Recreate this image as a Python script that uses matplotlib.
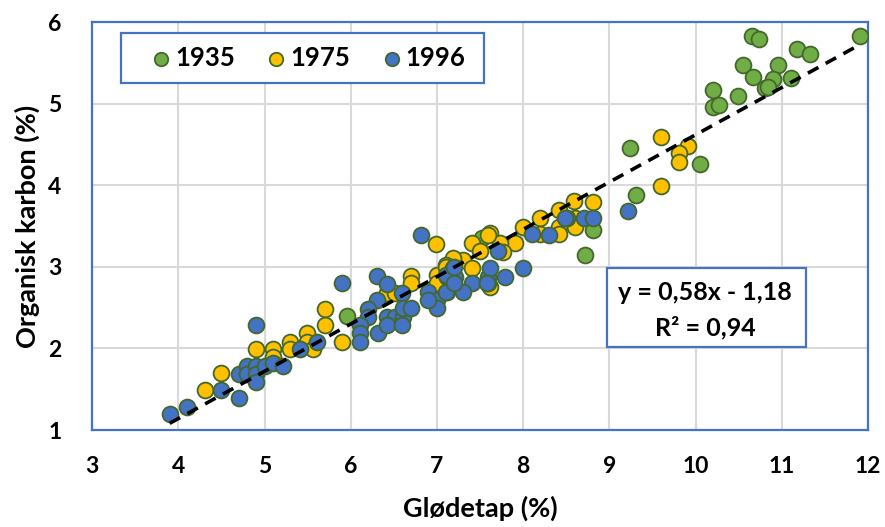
import numpy as np
import matplotlib.pyplot as plt
from matplotlib.patches import Rectangle

plt.rcParams['font.family'] = ['Lato', 'DejaVu Sans']
plt.rcParams['font.weight'] = 'bold'

# Glødetap (%) og organisk karbon (%) per år
x_1935 = [10.65, 10.73, 11.91, 11.17, 11.32, 10.55, 10.96, 10.67, 10.90, 11.10, 10.80, 10.84,
          10.20, 10.49, 10.20, 10.27, 9.24, 10.05, 9.31, 8.81, 8.72, 5.96, 7.52]
y_1935 = [5.83, 5.79, 5.83, 5.67, 5.61, 5.47, 5.47, 5.33, 5.30, 5.31, 5.19, 5.20,
          5.17, 5.09, 4.96, 4.98, 4.46, 4.26, 3.88, 3.45, 3.14, 2.40, 3.35]

x_1975 = [9.60, 9.91, 9.81, 9.81, 9.60, 8.59, 8.81, 8.60, 8.41, 8.20, 8.00, 8.41, 8.60, 8.20, 8.41,
          7.91, 7.61, 7.41, 7.73, 7.50, 7.77, 7.30, 7.19, 7.41, 7.10, 7.62, 7.59, 7.59, 6.99,
          5.70, 5.70, 5.90, 6.42, 6.51, 6.70, 6.70, 7.00, 7.00, 7.10,
          4.31, 4.50, 4.90, 5.10, 5.10, 5.30, 5.30, 5.49, 5.49, 5.56]
y_1975 = [4.59, 4.48, 4.39, 4.28, 3.99, 3.81, 3.79, 3.60, 3.70, 3.60, 3.49, 3.49, 3.49, 3.40, 3.40,
          3.29, 3.41, 3.29, 3.29, 3.19, 3.18, 3.08, 3.11, 2.99, 3.02, 2.75, 2.80, 3.39, 3.28,
          2.48, 2.29, 2.08, 2.68, 2.68, 2.89, 2.80, 2.90, 2.80, 3.00,
          1.49, 1.70, 1.99, 1.99, 1.89, 2.08, 1.99, 2.19, 2.08, 1.99]

x_1996 = [9.21, 8.51, 8.70, 8.81, 8.49, 8.10, 8.30, 7.71, 8.00, 7.79, 7.59, 7.41, 7.19, 7.61,
          7.12, 7.21, 7.58, 7.12, 7.30, 6.81, 5.90, 6.31, 6.42, 6.60, 6.31, 6.20, 6.20, 6.11,
          6.11, 6.11, 6.42, 6.51, 6.61, 6.61, 6.70, 6.32, 6.42, 6.60, 6.90, 7.00, 7.00, 7.10,
          7.10, 6.90, 7.20, 7.20, 3.90, 4.10, 4.50, 4.70, 4.70, 4.80, 4.80, 4.90, 4.90, 4.90,
          4.90, 5.01, 5.10, 5.22, 5.41, 5.61]
y_1996 = [3.68, 3.60, 3.60, 3.60, 3.60, 3.40, 3.39, 3.19, 2.99, 2.88, 2.88, 2.80, 2.99, 2.99,
          2.88, 2.88, 2.80, 2.69, 2.69, 3.39, 2.80, 2.89, 2.79, 2.68, 2.59, 2.48, 2.39, 2.29,
          2.19, 2.08, 2.39, 2.39, 2.39, 2.50, 2.50, 2.19, 2.29, 2.29, 2.69, 2.59, 2.50, 2.69,
          2.90, 2.59, 2.80, 3.00, 1.20, 1.28, 1.49, 1.39, 1.69, 1.78, 1.69, 1.78, 1.69, 1.59,
          2.29, 1.78, 1.82, 1.78, 1.99, 2.08]

# lineær trendlinje for alle år samlet
slope = 0.58
intercept = -1.18
r2 = 0.94

series = [
    ('1935', x_1935, y_1935, '#70AD47'),
    ('1975', x_1975, y_1975, '#FFC000'),
    ('1996', x_1996, y_1996, '#4472C4'),
]

blue = '#4472C4'
edge = '#43682B'

fig = plt.figure(figsize=(8.85, 5.27), dpi=100)
ax = fig.add_axes([0.104, 0.184, 0.877, 0.774])

for name, xs, ys, col in series:
    ax.scatter(xs, ys, s=130, color=col, edgecolors=edge, linewidths=1.3, label=name, zorder=3)

all_x = x_1935 + x_1975 + x_1996
tx = np.array([min(all_x), max(all_x)])
ax.plot(tx, slope * tx + intercept, color='black', linestyle=(0, (3.3, 2.3)), linewidth=2.6, zorder=4)

ax.set_xlim(3, 12)
ax.set_ylim(1, 6)
ax.set_xticks(range(3, 13))
ax.set_yticks(range(1, 7))
ax.grid(True, color='#D9D9D9', linewidth=1.5, zorder=0)
ax.set_axisbelow(True)
for sp in ax.spines.values():
    sp.set_color(blue)
    sp.set_linewidth(1.6)
ax.tick_params(axis='both', length=0, labelsize=16.5)
ax.tick_params(axis='x', pad=19)
ax.tick_params(axis='y', pad=22)

ax.set_xlabel('Glødetap (%)', fontsize=19.5, fontweight='bold', labelpad=13)
ax.set_ylabel('Organisk karbon (%)', fontsize=19.5, fontweight='bold', labelpad=6)

# tegnforklaring med egen ramme
ax.add_patch(Rectangle((0.0374, 0.8505), 0.468, 0.1225, transform=ax.transAxes,
                       facecolor='white', edgecolor=blue, linewidth=1.6, zorder=5))
leg = ax.legend(loc='center left', bbox_to_anchor=(0.076, 0.912), ncol=3, fontsize=18.5,
                frameon=False, borderpad=0, borderaxespad=0, handlelength=0.8,
                handletextpad=0.15, columnspacing=1.2, markerscale=0.85)
leg.set_zorder(6)

# boks med likning og R²
ax.add_patch(Rectangle((0.664, 0.203), 0.256, 0.194, transform=ax.transAxes,
                       facecolor='white', edgecolor=blue, linewidth=1.6, zorder=5))
ax.text(0.790, 0.338, f'y = {slope:.2f}x - {abs(intercept):.2f}'.replace('.', ','),
        transform=ax.transAxes, ha='center', va='center', fontsize=18, fontweight='bold', zorder=6)
ax.text(0.790, 0.252, f'R² = {r2:.2f}'.replace('.', ','),
        transform=ax.transAxes, ha='center', va='center', fontsize=18, fontweight='bold', zorder=6)

fig.savefig('out.png', dpi=100)
